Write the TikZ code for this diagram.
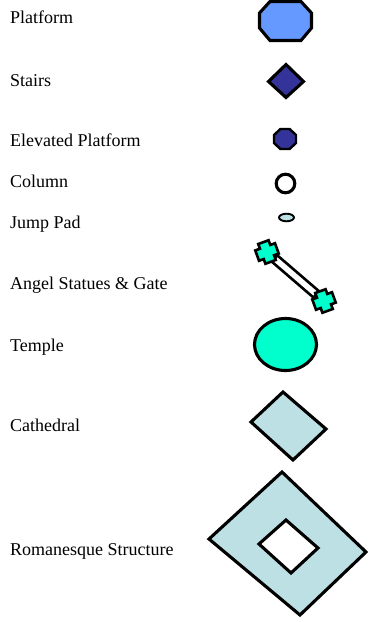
\documentclass[tikz,border=0pt]{standalone}
\usepackage{fontspec}
\setmainfont{Liberation Serif}
\definecolor{platblue}{RGB}{102,153,255}
\definecolor{stairblue}{RGB}{51,51,153}
\definecolor{paleblue}{RGB}{189,224,228}
\definecolor{aqua}{RGB}{0,255,204}
\begin{document}
\begin{tikzpicture}[x=1pt,y=-1pt,
  lab/.style={anchor=base west,inner sep=0pt,font=\fontsize{18}{20}\selectfont},
  shp/.style={draw=black,line width=3.1pt,line join=miter},
  thin shp/.style={draw=black,line width=1.9pt},
  crossshape/.style={draw=black,line width=2.6pt,fill=aqua,line join=miter}]
\useasboundingbox (0,0) rectangle (371,622);

% labels
\node[lab] (lplat) at (10,23.3) {Platform};
\node[lab] (lstair) at (10,86) {Stairs};
\node[lab] (lelev) at (10,146.7) {Elevated Platform};
\node[lab] (lcol) at (10,187.7) {Column};
\node[lab] (ljump) at (10,228) {Jump Pad};
\node[lab] (langel) at (10,289) {Angel Statues \& Gate};
\node[lab] (ltemple) at (10,351.7) {Temple};
\node[lab] (lcath) at (10,431.7) {Cathedral};
\node[lab] (lroman) at (10,555) {Romanesque Structure};

% Platform
\draw[shp,fill=platblue] (270,1.5) -- (301,1.5) -- (311.5,13) -- (311.5,28) -- (301,40.5) -- (270,40.5) -- (259.5,28) -- (259.5,13) -- cycle;
% Stairs
\draw[shp,fill=stairblue] (286,64.5) -- (303.5,81.5) -- (286,97.5) -- (268.5,81.5) -- cycle;
% Elevated Platform
\draw[shp,line width=2.4pt,fill=stairblue] (280.4,129) -- (289.6,129) -- (296,135) -- (296,143) -- (289.6,149) -- (280.4,149) -- (274,143) -- (274,135) -- cycle;
% Column
\draw[shp,fill=white] (285.5,183.5) circle[radius=9.3];
% Jump Pad
\draw[thin shp,fill=paleblue] (286.5,217.5) ellipse[x radius=7.5,y radius=3.8];
% Angel Statues & Gate
\begin{scope}[shift={(267,252)},rotate=-40.7]
  \draw[draw=black,line width=2.6pt,fill=white] (10,-4.2) rectangle (65,4.2);
\end{scope}
\foreach \cx/\cy in {267/252,324/301}{
  \begin{scope}[shift={(\cx,\cy)},rotate=20]
  \draw[crossshape] (-5.5,-10.5) -- (5.5,-10.5) -- (5.5,-5.5) -- (10.5,-5.5) -- (10.5,5.5) -- (5.5,5.5) -- (5.5,10.5) -- (-5.5,10.5) -- (-5.5,5.5) -- (-10.5,5.5) -- (-10.5,-5.5) -- (-5.5,-5.5) -- cycle;
  \end{scope}
}
% Temple
\draw[shp,fill=aqua] (285.5,344.5) ellipse[x radius=31,y radius=26];
% Cathedral
\draw[shp,fill=paleblue] (283,392) -- (326,429) -- (293,460) -- (251,422) -- cycle;
% Romanesque Structure
\draw[shp,fill=paleblue,even odd rule]
  (282,472) -- (366,552) -- (300,615) -- (209,539) -- cycle
  (286,520) -- (318,548) -- (291,573) -- (259,544) -- cycle;
\end{tikzpicture}
\end{document}
